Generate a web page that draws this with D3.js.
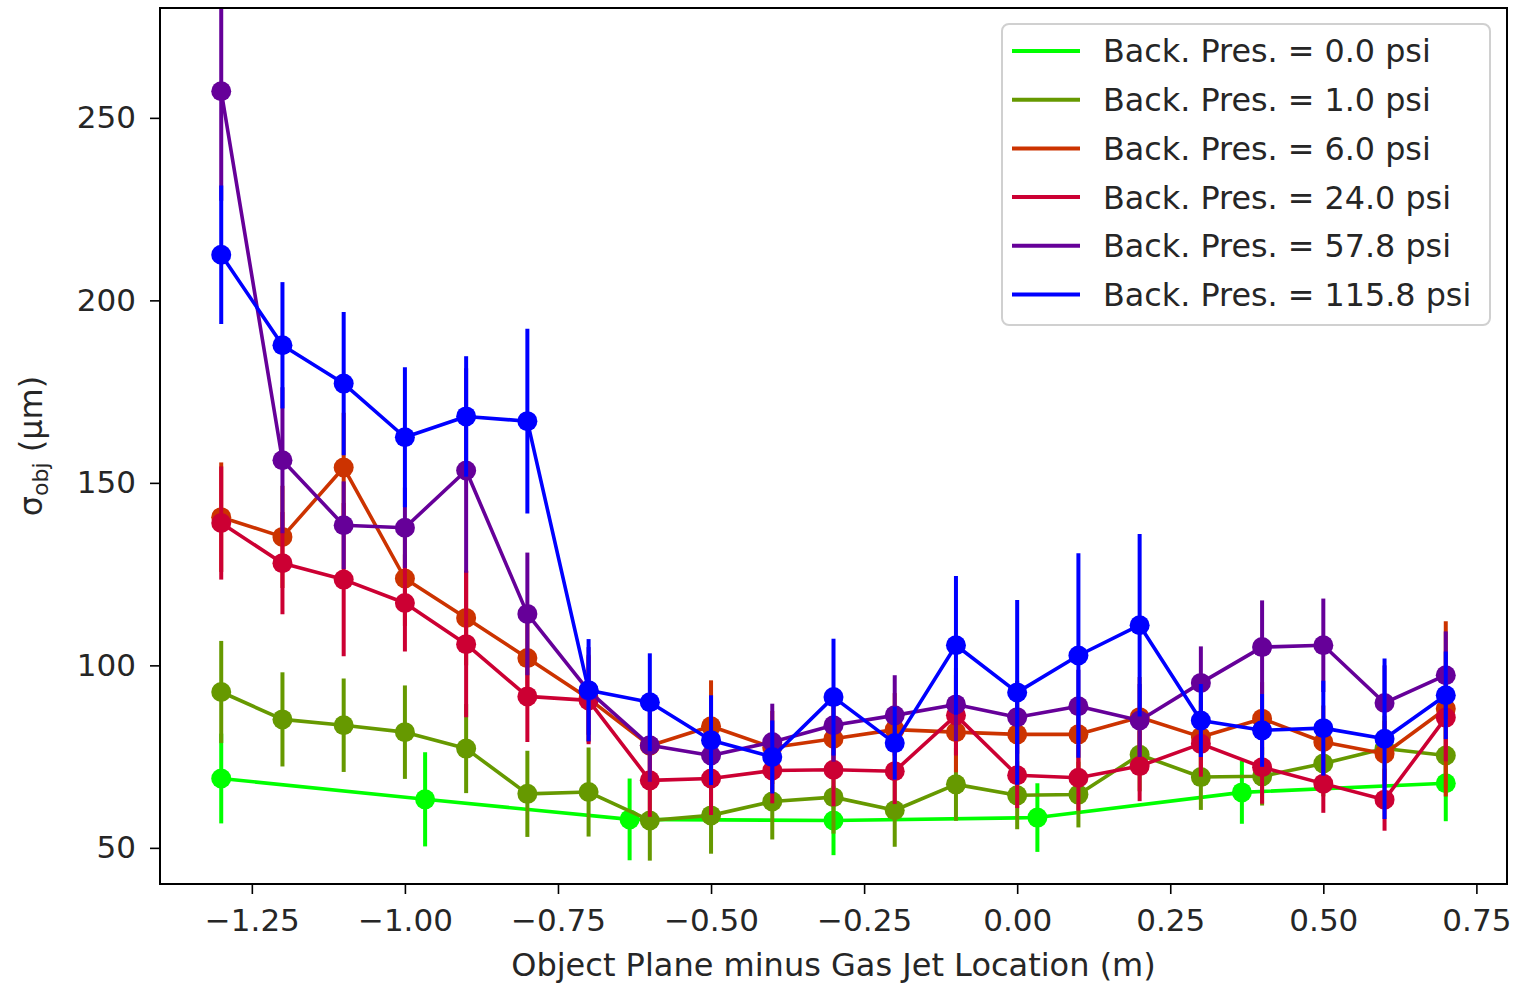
<!DOCTYPE html>
<html>
<head>
<meta charset="utf-8">
<script src="https://cdn.jsdelivr.net/npm/d3@7"></script>
<style>
    body { margin: 0; background: #fff; }
    svg { display: block; font-family: 'DejaVu Sans', sans-serif; }
</style>
</head>
<body>
<svg id="chart" width="1534" height="984"></svg>
<script>
// positions along the beam line (m)
const xsMain = [-1.3, -1.2, -1.1, -1.0, -0.9, -0.8, -0.7, -0.6, -0.5, -0.4, -0.3,
    -0.2, -0.1, 0.0, 0.1, 0.2, 0.3, 0.4, 0.5, 0.6, 0.7];
const xsZero = [-1.3, -0.967, -0.633, -0.3, 0.033, 0.367, 0.7];

// sigma_obj values (um) and error bars per back pressure
const p00 = [69.0, 63.3, 57.8, 57.5, 58.3, 65.2, 67.7];
const p00err = [12.3, 12.9, 11.2, 9.5, 9.4, 8.6, 10.4];

const p10 = [92.7, 85.2, 83.6, 81.7, 77.2, 64.8, 65.3, 57.5, 58.9, 62.7, 63.9,
    60.3, 67.4, 64.4, 64.6, 75.5, 69.4, 69.6, 73.1, 77.2, 75.3];
const p10err = [14, 12.9, 12.8, 12.8, 12.2, 11.8, 12.2, 11, 10.5, 10.4, 10,
    10, 10, 9.3, 9, 10, 9, 8, 9, 9, 9];

const p60 = [140.6, 135.2, 154.2, 123.8, 113.0, 102.0, 90.9, 78.0, 83.3, 77.5, 79.9,
    82.4, 81.7, 81.1, 81.1, 85.8, 80.4, 85.4, 79.0, 75.8, 88.1];
const p60err = [15, 14, 15, 13, 13, 12, 12, 10, 12.6, 10, 11,
    10, 11, 10, 10, 11, 10, 10, 10, 9, 24];

const p240 = [139.0, 128.0, 123.5, 117.1, 105.8, 91.5, 90.4, 68.5, 69.0, 71.2, 71.4,
    71.0, 86.3, 69.9, 69.2, 72.4, 78.5, 72.1, 67.6, 63.2, 85.7];
const p240err = [15.5, 14, 21, 13.3, 20, 12.5, 12, 10, 10, 9, 10,
    9, 11, 9, 9, 9.6, 9, 10, 8, 8.5, 12];

const p578 = [257.3, 156.2, 138.4, 137.7, 153.4, 114.1, 93.0, 78.1, 75.3, 79.0, 83.6,
    86.3, 89.3, 85.8, 88.8, 84.9, 95.2, 105.0, 105.5, 89.7, 97.3];
const p578err = [30, 20, 12, 11, 28, 16.8, 12, 10, 8, 10.5, 10,
    11, 10, 10, 10, 10, 10, 12.8, 12.8, 10.3, 12];

const p1158 = [212.5, 187.7, 177.2, 162.5, 168.2, 166.9, 93.2, 89.9, 79.5, 74.9, 91.3,
    78.7, 105.5, 92.6, 102.7, 111.0, 84.9, 82.2, 82.8, 79.9, 91.8];
const p1158err = [19, 17.3, 19.6, 19.2, 16.5, 25.3, 14, 13.4, 12.3, 10, 16,
    10, 19, 25.3, 28, 25, 10, 10, 13, 22, 12];

const seriesNames = ['Back. Pres. = 0.0 psi', 'Back. Pres. = 1.0 psi', 'Back. Pres. = 6.0 psi',
    'Back. Pres. = 24.0 psi', 'Back. Pres. = 57.8 psi', 'Back. Pres. = 115.8 psi'];
const colors = ['#00ff00', '#669900', '#cc3300', '#cc0033', '#660099', '#0000ff'];

const xTicks = [-1.25, -1.0, -0.75, -0.5, -0.25, 0.0, 0.25, 0.5, 0.75];
const yTicks = [50, 100, 150, 200, 250];

const series = [
    { x: xsZero, y: p00, e: p00err },
    { x: xsMain, y: p10, e: p10err },
    { x: xsMain, y: p60, e: p60err },
    { x: xsMain, y: p240, e: p240err },
    { x: xsMain, y: p578, e: p578err },
    { x: xsMain, y: p1158, e: p1158err },
].map((s, i) => ({
    name: seriesNames[i],
    color: colors[i],
    pts: s.x.map((xv, j) => ({ x: xv, y: s.y[j], e: s.e[j] })),
}));

const plot = { left: 160, right: 1507, top: 8, bottom: 884 };

const x = d3.scaleLinear().domain([-1.4, 0.8]).range([plot.left, plot.right]);
const y = d3.scaleLinear().domain([40.1, 280.1]).range([plot.bottom, plot.top]);

const svg = d3.select('#chart');

svg.append('defs')
    .append('clipPath')
    .attr('id', 'clip')
    .append('rect')
    .attr('x', plot.left)
    .attr('y', plot.top)
    .attr('width', plot.right - plot.left)
    .attr('height', plot.bottom - plot.top);

const g = svg.append('g').attr('clip-path', 'url(#clip)');

let line = d3.line()
    .x((d) => x(d.x))
    .y((d) => y(d.y));

series.forEach((s) => {
    let grp = g.append('g').attr('class', 'series');
    grp.selectAll('line.err')
        .data(s.pts)
        .enter()
        .append('line')
        .attr('class', 'err')
        .attr('x1', (d) => x(d.x))
        .attr('x2', (d) => x(d.x))
        .attr('y1', (d) => y(d.y - d.e))
        .attr('y2', (d) => y(d.y + d.e))
        .attr('stroke', s.color)
        .attr('stroke-width', 4);
    grp.append('path')
        .datum(s.pts)
        .attr('d', line)
        .attr('fill', 'none')
        .attr('stroke', s.color)
        .attr('stroke-width', 3.6)
        .attr('stroke-linejoin', 'round');
    grp.selectAll('circle')
        .data(s.pts)
        .enter()
        .append('circle')
        .attr('cx', (d) => x(d.x))
        .attr('cy', (d) => y(d.y))
        .attr('r', 10)
        .attr('fill', s.color);
});

// axes
const fmtX = d3.format('.2f');
const xAxis = svg.append('g')
    .attr('transform', `translate(0, ${plot.bottom})`)
    .call(d3.axisBottom(x).tickValues(xTicks).tickFormat(fmtX).tickSize(10).tickPadding(15));
const yAxis = svg.append('g')
    .attr('transform', `translate(${plot.left}, 0)`)
    .call(d3.axisLeft(y).tickValues(yTicks).tickSize(10).tickPadding(14));

[xAxis, yAxis].forEach((ax) => {
    ax.select('.domain').remove();
    ax.selectAll('.tick line').attr('stroke', '#000').attr('stroke-width', 1.6);
    ax.selectAll('.tick text')
        .attr('fill', '#262626')
        .style('font-family', "'DejaVu Sans', sans-serif")
        .style('font-size', '31px');
});

svg.append('rect')
    .attr('x', plot.left)
    .attr('y', plot.top)
    .attr('width', plot.right - plot.left)
    .attr('height', plot.bottom - plot.top)
    .attr('fill', 'none')
    .attr('stroke', '#000')
    .attr('stroke-width', 2);

// axis labels
svg.append('text')
    .attr('x', (plot.left + plot.right) / 2)
    .attr('y', 976)
    .attr('text-anchor', 'middle')
    .attr('fill', '#262626')
    .style('font-size', '32px')
    .text('Object Plane minus Gas Jet Location (m)');

const ylab = svg.append('text')
    .attr('transform', `translate(42, ${(plot.top + plot.bottom) / 2}) rotate(-90)`)
    .attr('text-anchor', 'middle')
    .attr('fill', '#262626')
    .style('font-size', '32px');
ylab.append('tspan').text('σ');
ylab.append('tspan').attr('dy', 6).style('font-size', '22px').text('obj');
ylab.append('tspan').attr('dy', -6).text(' (μm)');

// legend
const legend = svg.append('g').attr('transform', 'translate(1002, 24)');
legend.append('rect')
    .attr('width', 488)
    .attr('height', 301)
    .attr('rx', 7)
    .attr('fill', 'rgba(255,255,255,0.85)')
    .attr('stroke', '#d0d0d0')
    .attr('stroke-width', 2);

const rows = legend.selectAll('g.row')
    .data(series)
    .enter()
    .append('g')
    .attr('class', 'row')
    .attr('transform', (d, i) => `translate(0, ${27 + i * 48.7})`);
rows.append('line')
    .attr('x1', 10)
    .attr('x2', 78)
    .attr('stroke', (d) => d.color)
    .attr('stroke-width', 4);
rows.append('text')
    .attr('x', 101)
    .attr('dy', '0.36em')
    .attr('fill', '#262626')
    .style('font-size', '31.8px')
    .text((d) => d.name);
</script>
</body>
</html>
